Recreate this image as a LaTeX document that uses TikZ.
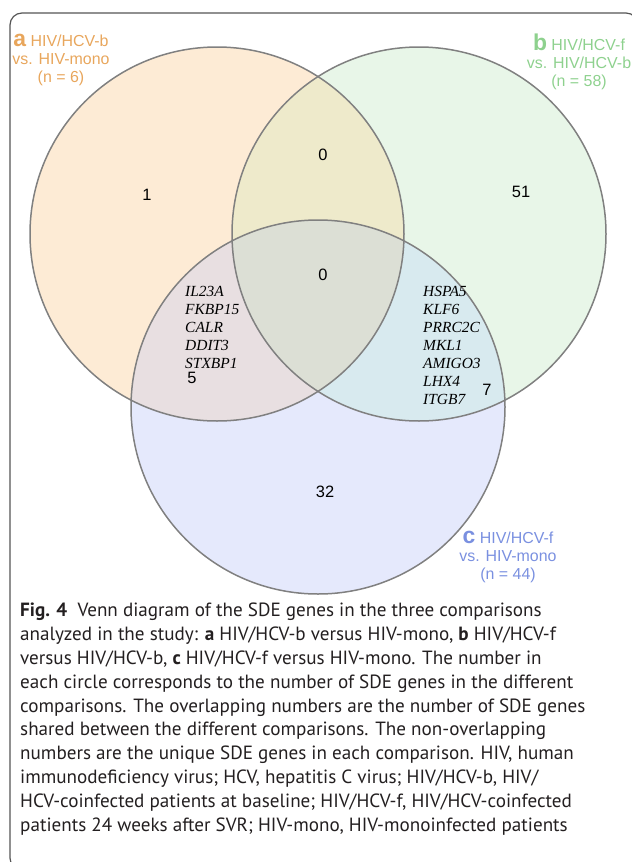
\documentclass[tikz,border=0pt]{standalone}
\usepackage{fontspec}
\setmainfont{Liberation Sans}
\newfontfamily\capfont{PT Sans}
\newfontfamily\genefont{Liberation Serif}
\usepackage{tikz}
\usetikzlibrary{positioning}
\definecolor{labA}{HTML}{E8A65C}
\definecolor{labB}{HTML}{8ED18E}
\definecolor{labC}{HTML}{7A90E0}
\definecolor{fillA}{HTML}{FDEBD5}
\definecolor{fillB}{HTML}{E8F6E8}
\definecolor{fillC}{HTML}{E5E9FC}
\definecolor{fillAB}{HTML}{EEEACB}
\definecolor{fillAC}{HTML}{E8DFE1}
\definecolor{fillBC}{HTML}{D8EAEF}
\definecolor{fillABC}{HTML}{DCDFD5}
\definecolor{ringgray}{HTML}{808080}
\definecolor{framegray}{HTML}{555555}
\definecolor{captext}{HTML}{231F20}

\begin{document}
\begin{tikzpicture}[x=1bp, y=-1bp,
	count/.style={font=\fontsize{16.5}{18}\selectfont, inner sep=0pt},
	genes/.style={font=\genefont\itshape\fontsize{15.5}{18}\selectfont, align=left, inner sep=0pt, anchor=north west},
	setlabel/.style={font=\fontsize{16}{18}\selectfont, align=center, inner sep=0pt, anchor=north},
	ring/.style={draw=ringgray, line width=1.5bp}]
	\useasboundingbox (0,0) rectangle (632,862);
	\clip (0,0) rectangle (632,862);
	\draw[framegray, line width=1.2bp, rounded corners=12bp] (10,13) rectangle (638,870);
	%
	\coordinate (ca) at (217,234);
	\coordinate (cb) at (419,234);
	\coordinate (cc) at (318,407);
	\fill[fillA] (ca) circle [radius=187];
	\fill[fillB] (cb) circle [radius=187];
	\fill[fillC] (cc) circle [radius=187];
	\begin{scope}
		\clip (ca) circle [radius=187];
		\fill[fillAB] (cb) circle [radius=187];
		\fill[fillAC] (cc) circle [radius=187];
	\end{scope}
	\begin{scope}
		\clip (cb) circle [radius=187];
		\fill[fillBC] (cc) circle [radius=187];
	\end{scope}
	\begin{scope}
		\clip (ca) circle [radius=187];
		\clip (cb) circle [radius=187];
		\fill[fillABC] (cc) circle [radius=187];
	\end{scope}
	\draw[ring] (ca) circle [radius=187];
	\draw[ring] (cb) circle [radius=187];
	\draw[ring] (cc) circle [radius=187];
	%
	\node[count] (only-a) at (147,195) {1};
	\node[count] (ab) at (323,155) {0};
	\node[count] (only-b) at (521,192) {51};
	\node[count] (abc) at (323,275) {0};
	\node[count] (ac) at (192,378) {5};
	\node[count] (bc) at (487,390) {7};
	\node[count] (only-c) at (325,492) {32};
	\node[genes] (ac-genes) at (185,286) {IL23A\\FKBP15\\CALR\\DDIT3\\STXBP1};
	\node[genes] (bc-genes) at (423,286) {HSPA5\\KLF6\\PRRC2C\\MKL1\\AMIGO3\\LHX4\\ITGB7};
	%
	\node[setlabel, labA] (lab-a) at (61,34) {{\fontsize{23}{18}\selectfont\bfseries a} HIV/HCV-b\\vs. HIV-mono\\(n = 6)};
	\node[setlabel, labB] (lab-b) at (579,34) {{\fontsize{23}{18}\selectfont\bfseries b} HIV/HCV-f\\vs. HIV/HCV-b\\(n = 58)};
	\node[setlabel, labC] (lab-c) at (508,531) {{\fontsize{23}{18}\selectfont\bfseries c} HIV/HCV-f\\vs. HIV-mono\\(n = 44)};
	%
	\node[anchor=north west, inner sep=0pt, align=left, text=captext,
		font=\capfont\fontsize{19.2}{23.9}\selectfont] (caption) at (20,603) {%
		\textbf{Fig. 4}\ \ Venn diagram of the SDE genes in the three comparisons\\
		analyzed in the study: \textbf{a} HIV/HCV-b versus HIV-mono, \textbf{b} HIV/HCV-f\\
		versus HIV/HCV-b, \textbf{c} HIV/HCV-f versus HIV-mono. The number in\\
		each circle corresponds to the number of SDE genes in the different\\
		comparisons. The overlapping numbers are the number of SDE genes\\
		shared between the different comparisons. The non-overlapping\\
		numbers are the unique SDE genes in each comparison. HIV, human\\
		immunodeficiency virus; HCV, hepatitis C virus; HIV/HCV-b, HIV/\\
		HCV-coinfected patients at baseline; HIV/HCV-f, HIV/HCV-coinfected\\
		patients 24 weeks after SVR; HIV-mono, HIV-monoinfected patients};
\end{tikzpicture}
\end{document}
